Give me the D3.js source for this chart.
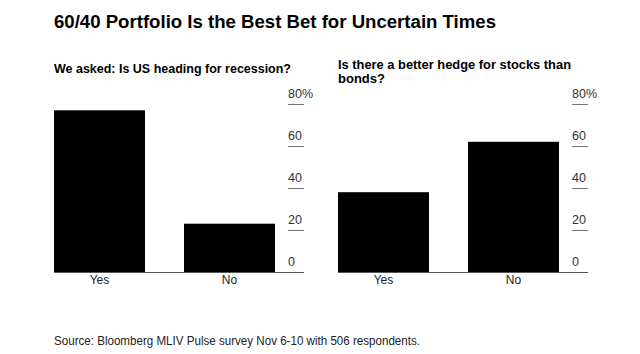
<!DOCTYPE html>
<html>
<head>
<meta charset="utf-8">
<script src="https://cdn.jsdelivr.net/npm/d3@7"></script>
<style>
  html, body { margin: 0; padding: 0; background: #fff; }
  svg { display: block; font-family: "Liberation Sans", Arial, sans-serif; }
</style>
</head>
<body>
<svg id="chart" width="640" height="354"></svg>
<script>
const title = "60/40 Portfolio Is the Best Bet for Uncertain Times";
const source = "Source: Bloomberg MLIV Pulse survey Nov 6-10 with 506 respondents.";
const categories = ["Yes", "No"];
const panelTitles = [
  ["We asked: Is US heading for recession?"],
  ["Is there a better hedge for stocks than", "bonds?"]
];
const recessionValues = [77, 23];
const hedgeValues = [38, 62];
const tickValues = [0, 20, 40, 60, 80];
const tickLabels = ["0", "20", "40", "60", "80%"];

const svg = d3.select("#chart");

svg.append("text")
  .attr("x", 54).attr("y", 28)
  .attr("font-size", 18).attr("font-weight", "bold").attr("fill", "#000")
  .attr("textLength", 442).attr("lengthAdjust", "spacingAndGlyphs")
  .text(title);

svg.append("text")
  .attr("x", 54).attr("y", 345)
  .attr("font-size", 12).attr("fill", "#222")
  .attr("textLength", 366).attr("lengthAdjust", "spacingAndGlyphs")
  .text(source);

const panels = [
  { x0: 54, values: recessionValues, titles: panelTitles[0], titleY: 72.5, titleW: [237] },
  { x0: 338, values: hedgeValues, titles: panelTitles[1], titleY: 68.5, titleW: [233, null] }
];

const y = d3.scaleLinear().domain([0, 80]).range([272, 104]);

panels.forEach(p => {
  const g = svg.append("g");
  p.titles.forEach((t, i) => {
    const tx = g.append("text")
      .attr("x", p.x0).attr("y", p.titleY + i * 14.5)
      .attr("font-size", 13).attr("font-weight", "bold").attr("fill", "#000")
      .text(t);
    if (p.titleW[i]) tx.attr("textLength", p.titleW[i]).attr("lengthAdjust", "spacingAndGlyphs");
  });

  const x = d3.scaleBand().domain(categories)
    .range([p.x0, p.x0 + 221]).paddingInner(0.3).paddingOuter(0);

  g.selectAll("rect").data(p.values).join("rect")
    .attr("x", (d, i) => x(categories[i]))
    .attr("width", x.bandwidth())
    .attr("y", d => y(d))
    .attr("height", d => y(0) - y(d))
    .attr("fill", "#000");

  // tick lines and labels on the right
  const tx0 = p.x0 + 234;
  g.selectAll("line.tick").data(tickValues.filter(v => v > 0)).join("line")
    .attr("class", "tick")
    .attr("x1", tx0).attr("x2", tx0 + 16)
    .attr("y1", d => Math.round(y(d)) + 0.5).attr("y2", d => Math.round(y(d)) + 0.5)
    .attr("stroke", "#777").attr("stroke-width", 1);
  g.selectAll("text.tl").data(tickValues).join("text")
    .attr("class", "tl")
    .attr("x", tx0).attr("y", d => y(d) - 6)
    .attr("font-size", 12.5).attr("fill", "#333")
    .text((d, i) => tickLabels[i]);

  // baseline
  g.append("line")
    .attr("x1", p.x0).attr("x2", p.x0 + 250)
    .attr("y1", Math.round(y(0)) + 0.5).attr("y2", Math.round(y(0)) + 0.5)
    .attr("stroke", "#555").attr("stroke-width", 1.2);

  g.selectAll("text.cat").data(categories).join("text")
    .attr("class", "cat")
    .attr("x", d => x(d) + x.bandwidth() / 2).attr("y", 284)
    .attr("text-anchor", "middle")
    .attr("font-size", 12).attr("fill", "#222")
    .text(d => d);
});
</script>
</body>
</html>
